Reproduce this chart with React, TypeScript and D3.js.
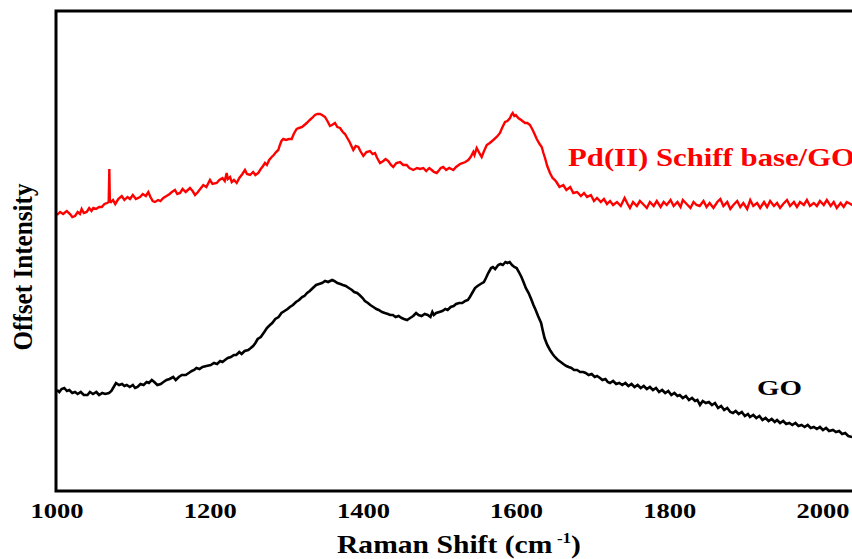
import React from "react";
import * as d3 from "d3";

// Raman shift (cm^-1) and offset intensity (a.u.)
const pdSchiffGO: [number, number][] = [
  [1000,276],[1004,279],[1008,277],[1012.7,280],[1017,277],[1020,274],[1023.5,275],[1027,279],[1030,277],[1032.2,282],[1035,278],[1038.8,279],[1042,283],[1045,280],[1047.4,283],[1051,282],[1055,284],[1058.4,284],[1062,287],[1065.3,288],[1067.5,289],[1068.3,322],[1069,290],[1070.5,289],[1073.1,291],[1076,287],[1080,292],[1084.5,295],[1088,291],[1092,294],[1095.3,292],[1099,296],[1103,292],[1108.4,294],[1112,297],[1116,295],[1119.2,299],[1122,294],[1125,290],[1127.9,289],[1132,291],[1135,290],[1138.8,293],[1143,295],[1147,297],[1150,299],[1154,301],[1157,297],[1160.6,298],[1164,302],[1168,299],[1173.6,303],[1177,300],[1180.2,296],[1184,299],[1188,303],[1191,306],[1195,304],[1199.7,311],[1203,307],[1208.5,308],[1212,311],[1216,313],[1219,310],[1221.5,318],[1223,312],[1226,314],[1228.1,309],[1231,311],[1234.6,308],[1238,313],[1242,317],[1245.4,321],[1248,317],[1252,316],[1256,319],[1259,316],[1262.8,318],[1266,322],[1269,325],[1271.5,328],[1274,326],[1277,331],[1280.3,334],[1283,336],[1286,339],[1288.9,341],[1291,346],[1293,350],[1295.4,352],[1299,351],[1303,352],[1306.4,352],[1309,357],[1312.9,362],[1316,363],[1320,364],[1323,366],[1326,368],[1330,371],[1333,373],[1336.8,376],[1340,377],[1343.3,377],[1346,376],[1349.9,374],[1353,370],[1356.4,365],[1359,366],[1362.9,368],[1366,364],[1369.5,363],[1373,359],[1376,357],[1378.2,354],[1382,349],[1386.8,341],[1390,345],[1393.4,344],[1396,340],[1399.9,335],[1404,339],[1408.6,340],[1412,337],[1415.1,338],[1418,333],[1421.7,328],[1426,330],[1429,332],[1432.5,330],[1436,326],[1439,324],[1443,328],[1447.8,329],[1452,326],[1456.5,326],[1460,323],[1465.1,321],[1470,323],[1474,322],[1478.2,323],[1482,320],[1486,323],[1489.2,321],[1492,319],[1495.7,318],[1499,321],[1501,323],[1504.3,324],[1508,321],[1512,323],[1517.4,321],[1521,324],[1526.1,327],[1530,328],[1533,329],[1536.9,331],[1540,334],[1543.5,339],[1545,336],[1547.9,343],[1550,340],[1552,337],[1554.4,334],[1557,339],[1561,346],[1565,348],[1569.6,351],[1574,354],[1578.3,358],[1581,363],[1584.9,369],[1588,370],[1591.4,373],[1593,376],[1594.9,378],[1597,375],[1599,376],[1602.2,373],[1606,371],[1611,368],[1614,368],[1617.5,366],[1621,361],[1624,356],[1626.3,352],[1630,347],[1632.8,344],[1635,338],[1637.1,333],[1640,325],[1643.6,318],[1647,313],[1650,311],
  [1652,309],[1656,304],[1661,306],[1665,301],[1670,304],[1674,298],[1679,299],[1684,295],[1688,298],[1692,294],[1697,296],[1701,290],[1705,293],[1710,289],[1714,292],[1718,287],[1722,290],[1726,286],[1731,289],[1736,285],[1741,293],[1745,287],[1748,283],[1752,289],[1757,285],[1761,290],[1765,287],[1770,283],[1774,289],[1779,285],[1783,290],[1788,284],[1792,289],[1796,286],[1801,291],[1805,285],[1810,289],[1814,284],[1817,291],[1822,287],[1827,283],[1831,289],[1835,286],[1839,285],[1844,290],[1848,284],[1852,288],[1857,283],[1862,289],[1866,292],[1870,285],[1875,289],[1879,282],[1883,286],[1888,290],[1892,284],[1896,288],[1901,282],[1905,291],[1909,285],[1914,288],[1918,283],[1923,289],[1927,284],[1931,290],[1936,285],[1940,288],[1944,283],[1948,287],[1953,291],[1957,285],[1962,289],[1966,284],[1970,289],[1975,286],[1979,291],[1983,285],[1988,288],[1992,285],[1996,290],[2001,286],[2005,291],[2010,285],[2014,289],[2018,283],[2023,288],[2027,284],[2031,289],[2036,287],[2040,285]
];

const goSpectrum: [number, number][] = [
  [1000,101],[1003,99],[1006,102],[1009.5,103],[1013,100],[1016,101],[1020,98],[1023.5,99],[1027,97],[1031,99],[1035,96],[1039.8,96],[1043,99],[1047,97],[1051.4,99],[1055,96],[1059,98],[1063,97],[1067.8,98],[1071,100],[1074,104],[1077,108],[1081,106],[1085,107],[1088,105],[1091.1,106],[1095,104],[1099,106],[1102,103],[1105.1,104],[1109,107],[1113,106],[1117,109],[1120,108],[1123.8,111],[1127,109],[1131,106],[1135.4,107],[1139,109],[1143,111],[1147,112],[1151.7,114],[1155,111],[1159,114],[1163,116],[1168,116],[1172,118],[1176,120],[1179,121],[1182,123],[1186,122],[1190,124],[1195,125],[1200.7,126],[1205,128],[1209,127],[1213,130],[1216,129],[1219.3,131],[1223,133],[1227,134],[1230.9,136],[1234,136],[1238,139],[1241,137],[1245,140],[1249.6,141],[1253,143],[1256,145],[1259,148],[1262,152],[1266,154],[1270.6,159],[1274,163],[1278,166],[1281,168],[1285,172],[1289.3,174],[1293,178],[1297,180],[1301,182],[1304,184],[1308,186],[1312,189],[1316,191],[1320,194],[1323,195],[1326.5,198],[1330,200],[1334,203],[1338.3,206],[1342,207],[1346,208],[1350,210],[1354,209],[1359.1,211],[1362,210],[1366,208],[1370,207],[1373.2,206],[1377,205],[1381,203],[1385,201],[1388,199],[1391.8,198],[1395,196],[1399,193],[1402,190],[1405.9,188],[1409,186],[1413,184],[1417,182],[1420,181],[1424.4,179],[1428,178],[1432,177],[1435,176],[1438.5,176],[1442,174],[1446,175],[1450,173],[1453,172],[1457,171],[1461,173],[1465,175],[1468.8,178],[1472,176],[1476,175],[1480,177],[1484,176],[1487.5,174],[1490,179],[1492,176],[1495,178],[1499.1,179],[1503,180],[1507,182],[1510,181],[1514,184],[1517.8,185],[1521,187],[1525,188],[1529,188],[1533,190],[1536.4,191],[1539,194],[1542,198],[1545.7,203],[1549,205],[1553,207],[1557.3,209],[1560,213],[1563,218],[1566.7,223],[1569,224],[1572,222],[1576,226],[1579,227],[1582,226],[1585.4,229],[1588,228],[1591,229],[1594,226],[1597,224],[1600,223],[1603,219],[1606.3,214],[1609,209],[1612,203],[1615.7,198],[1619,192],[1622,186],[1624.9,181],[1628,175],[1632,168],[1634,161],[1636.5,153],[1640,146],[1643.6,141],[1647,137],[1650,134],[1654,131],[1657.6,129],[1661,127],[1665,125],[1668,124],[1671.5,123],[1675,121],[1679,121],[1683,119],[1687,119],[1690.2,118],[1694,116],[1698,117],[1702,114],[1705,115],[1708.9,113],[1712,111],[1716,112],[1719,109],[1721.9,108],[1726,110],[1730,107],[1734,108],[1738,106],[1742,108],[1746,105],[1750,107],[1754,104],[1758,106],[1762,103],[1766,105],[1770,102],[1774,104],[1778,101],[1782,103],[1786,99],[1790,101],[1794,98],[1798,100],[1802,96],[1806,98],[1810,95],[1813,96],[1817,93],[1821,95],[1825,91],[1829,93],[1833,90],[1836,91],[1839.4,86],[1843,90],[1847,88],[1851,89],[1855,86],[1859,88],[1863,83],[1867,85],[1871,81],[1875,83],[1879,79],[1882.5,78],[1886,80],[1890,77],[1894,79],[1898,75],[1902,77],[1904.7,74],[1909,76],[1913,73],[1917,75],[1921,71],[1925,73],[1929,70],[1933,72],[1937,69],[1940,71],[1944,68],[1948,70],[1952,67],[1956,68],[1960,66],[1964,68],[1968,65],[1972,66],[1976,64],[1980,66],[1984,63],[1988,64],[1992,62],[1996,64],[2000,61],[2004,63],[2008,60],[2013,61],[2017,59],[2021,60],[2025,57],[2029,58],[2033,55],[2038,54]
];

const xTicks = [1000, 1200, 1400, 1600, 1800, 2000];
const seriesLabels = ["Pd(II) Schiff base/GO", "GO"];
const xTitle = "Raman Shift (cm";
const yTitle = "Offset Intensity";

const W = 852;
const H = 559;
const FONT = "'Liberation Serif', 'Times New Roman', serif";

export default function App() {
  const x = d3.scaleLinear().domain([1000, 2000]).range([57, 823]);
  const y = d3.scaleLinear().domain([0, 480]).range([491, 11]);
  const line = d3
    .line<[number, number]>()
    .x((d) => x(d[0]))
    .y((d) => y(d[1]));

  const left = 56;
  const right = x(2046);
  const top = y(480);
  const bottom = y(0);

  return (
    <svg
      width={W}
      height={H}
      style={{ position: "absolute", left: 0, top: 0, background: "#fff" }}
      fontFamily={FONT}
    >
      <rect x={0} y={0} width={W} height={H} fill="#fff" />
      <path d={line(goSpectrum) || ""} fill="none" stroke="#000" strokeWidth={2.6} strokeLinejoin="miter" />
      <path d={line(pdSchiffGO) || ""} fill="none" stroke="#ff0000" strokeWidth={2.4} strokeLinejoin="miter" />
      <rect
        x={left}
        y={top}
        width={right - left}
        height={bottom - top}
        fill="none"
        stroke="#000"
        strokeWidth={3}
      />
      {xTicks.map((t) => (
        <text
          key={t}
          x={x(t)}
          y={518}
          textAnchor="middle"
          fontSize={21}
          fontWeight="bold"
          textLength={53}
          lengthAdjust="spacingAndGlyphs"
          fill="#000"
        >
          {t}
        </text>
      ))}
      <text
        x={337}
        y={553}
        fontSize={26}
        fontWeight="bold"
        textLength={244}
        lengthAdjust="spacingAndGlyphs"
        fill="#000"
      >
        {xTitle}
        <tspan dx={4} dy={-10} fontSize={15}>-1</tspan>
        <tspan dy={10}>)</tspan>
      </text>
      <text
        transform={`translate(32, 267) rotate(-90)`}
        textAnchor="middle"
        fontSize={27}
        fontWeight="bold"
        textLength={167}
        lengthAdjust="spacingAndGlyphs"
        fill="#000"
      >
        {yTitle}
      </text>
      <text
        x={568}
        y={166}
        fontSize={25}
        fontWeight="bold"
        textLength={287}
        lengthAdjust="spacingAndGlyphs"
        fill="#ff0000"
      >
        {seriesLabels[0]}
      </text>
      <text
        x={757}
        y={395}
        fontSize={20}
        fontWeight="bold"
        textLength={45}
        lengthAdjust="spacingAndGlyphs"
        fill="#000"
      >
        {seriesLabels[1]}
      </text>
    </svg>
  );
}
